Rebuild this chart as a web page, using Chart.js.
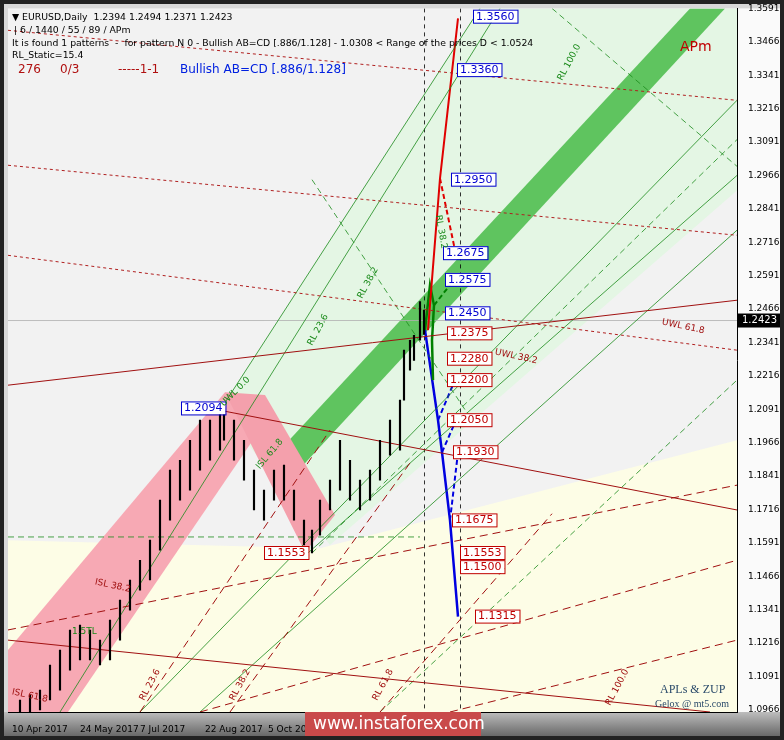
<!DOCTYPE html>
<html><head><meta charset="utf-8">
<script src="https://cdn.jsdelivr.net/npm/chart.js@4.4.1/dist/chart.umd.min.js"></script>
<style>html,body{margin:0;padding:0;background:#3a3a3a}#w{width:784px;height:740px}</style>
</head><body><div id="w"><canvas id="c" width="784" height="740"></canvas></div>
<script>
// ---- data ----
const barIdx = [4,9,14,19,24,29,34,39,44,49,54,59,64,69,74,79,84,89,94,99,104,106,111,116,121,126,131,136,141,146,150,154,159,164,169,174,179,184,189,194,196,199,201,204,206];
const barHigh= [1.1003,1.1022,1.1040,1.1134,1.1190,1.1265,1.1283,1.1265,1.1227,1.1302,1.1377,1.1452,1.1526,1.1601,1.1751,1.1863,1.1900,1.1975,1.2050,1.2050,1.2087,1.2094,1.2050,1.1975,1.1863,1.1788,1.1863,1.1882,1.1788,1.1676,1.1639,1.1751,1.1826,1.1975,1.1900,1.1826,1.1863,1.1975,1.2050,1.2125,1.2312,1.2349,1.2368,1.2494,1.2462];
const barLow = [1.0928,1.0958,1.0966,1.1003,1.1040,1.1115,1.1153,1.1153,1.1134,1.1153,1.1227,1.1339,1.1414,1.1452,1.1564,1.1676,1.1751,1.1788,1.1863,1.1900,1.1938,1.1975,1.1900,1.1826,1.1714,1.1676,1.1751,1.1751,1.1676,1.1583,1.1553,1.1620,1.1714,1.1788,1.1751,1.1714,1.1751,1.1826,1.1919,1.1938,1.2125,1.2237,1.2274,1.2349,1.2371];
const yTicks = [1.0966,1.1091,1.1216,1.1341,1.1466,1.1591,1.1716,1.1841,1.1966,1.2091,1.2216,1.2341,1.2466,1.2591,1.2716,1.2841,1.2966,1.3091,1.3216,1.3341,1.3466,1.3591];
const dateIdx = [0,34,64,96.5,128,160,193];
const dateLabels = ['10 Apr 2017','24 May 2017','7 Jul 2017','22 Aug 2017','5 Oct 2017','20 Nov 2017','4 Jan 2018'];
const lastPrice = 1.2423;
// projection lines
const redSolid  = [[208,1.2387],[214,1.2955],[223,1.3554]];
const redDash   = [[214,1.2955],[221.5,1.2686]];
const greenSolid= [[206.5,1.2387],[209,1.2555],[211,1.2480],[210,1.2349],[210.5,1.2200]];
const greenDash = [[211,1.2480],[221,1.2575]];
const blueSolid = [[206.5,1.2387],[213,1.2050],[215,1.1930],[219,1.1675],[223,1.1315]];
const blueDash1 = [[213,1.2050],[221.5,1.2200]];
const blueDash2 = [[215,1.1930],[222,1.2050]];
const blueDash3 = [[219,1.1675],[223,1.1930]];
const labelPrices=[1.3560,1.3360,1.2950,1.2675,1.2575,1.2450,1.2375,1.2280,1.2200,1.2050,1.1930,1.1675,1.1553,1.1500,1.1315,1.2094,1.1553];
const labelIdx   =[230.5,222.5,219.5,215.5,216.5,216.5,217.5,217.5,217.5,217.5,220.5,220,224,224,231.5,84.5,126];
const labelBlue  =[1,1,1,1,1,1,0,0,0,0,0,0,0,0,0,1,0];
// decorative lines [idx,price] pairs
const darkRedSolid=[[[-2,1.2181],[362.5,1.2499]],[[104,1.2087],[362.5,1.1714]],[[-2,1.1227],[349,1.0958]]];
const darkRedDash =[[[-2,1.1265],[362.5,1.1807]],[[94,1.0958],[362.5,1.1526]],[[219,1.0958],[362.5,1.1227]],[[64,1.0958],[159,1.2013]],[[109,1.0958],[200,1.1900]],[[184,1.0958],[270,1.1700]]];
const redDotted   =[[[-2,1.3509],[362.5,1.3247]],[[-2,1.3004],[362.5,1.2742]],[[-2,1.2667],[362.5,1.2312]]];
const greenThin   =[[[24,1.0958],[244,1.3591]],[[64,1.0958],[362.5,1.3247]],[[94,1.0958],[362.5,1.2761]],[[144,1.1527],[362.5,1.2966]],[[104,1.2087],[234,1.3591]]];
const greenDashL  =[[[184,1.0958],[362.5,1.2200]],[[150,1.1553],[362.5,1.3100]],[[270,1.3591],[362.5,1.3000]],[[150,1.2950],[230,1.2050]]];
const bandTop=[[134,1.1938],[339,1.3591]], bandBot=[[134,1.1788],[356.5,1.3591]];
const lightGreenPoly=[[104,1.2087],[234,1.3591],[362.5,1.3591],[362.5,1.2910],[159,1.1583]];
const beigePoly=[[154,1.1571],[362.5,1.1975],[362.5,1.0958],[-2,1.0958],[-2,1.1601]];
const pink1=[[-2,1.1190],[106.5,1.2155],[128,1.2058],[28,1.0958],[-2,1.0958]];
const pink2=[[106.5,1.2155],[126.5,1.2144],[161.5,1.1695],[146.5,1.1556]];

const pts=a=>a.map(p=>({x:p[0],y:p[1]}));
const ds=[];
ds.push({type:'bar',data:barIdx.map((x,i)=>({x,y:[barLow[i],barHigh[i]]})),backgroundColor:'#000',barThickness:1.5,order:1});
function line(a,color,w,dash){ds.push({type:'line',data:pts(a),borderColor:color,borderWidth:w,borderDash:dash||[],pointRadius:0,fill:false,tension:0,order:2});}
darkRedSolid.forEach(a=>line(a,'#a01010',1));
darkRedDash.forEach(a=>line(a,'#a01010',1,[8,5]));
redDotted.forEach(a=>line(a,'#b02020',1,[3,3]));
greenThin.forEach(a=>line(a,'#1a8a1a',0.8));
greenDashL.forEach(a=>line(a,'#1a8a1a',0.8,[6,4]));
line(redSolid,'#e00000',2); line(redDash,'#e00000',2,[5,3]);
line(greenSolid,'#008000',2.5); line(greenDash,'#008000',2,[5,3]);
line(blueSolid,'#0000e0',2.5); line(blueDash1,'#0000e0',2,[5,3]); line(blueDash2,'#0000e0',2,[5,3]); line(blueDash3,'#0000e0',2,[5,3]);

const deco={id:'deco',
 beforeDraw(c){const x=c.ctx;x.save();x.fillStyle='#d8d8d8';x.fillRect(0,0,784,740);
   const g=x.createLinearGradient(0,712,0,740);g.addColorStop(0,'#bdbdbd');g.addColorStop(1,'#5a5a5a');x.fillStyle=g;x.fillRect(0,712,784,28);
   x.fillStyle='#f2f2f2';const a=c.chartArea;x.fillRect(a.left,a.top,a.right-a.left,a.bottom-a.top);x.fillStyle='#fafafa';x.fillRect(a.right,a.top,784-a.right-4,a.bottom-a.top);x.restore();},
 beforeDatasetsDraw(c){const x=c.ctx,X=c.scales.x,Y=c.scales.y,a=c.chartArea;x.save();x.beginPath();x.rect(a.left,a.top,a.right-a.left,a.bottom-a.top);x.clip();
   const poly=(p,f)=>{x.beginPath();p.forEach((q,i)=>{const px=X.getPixelForValue(q[0]),py=Y.getPixelForValue(q[1]);i?x.lineTo(px,py):x.moveTo(px,py);});x.closePath();x.fillStyle=f;x.fill();};
   poly(beigePoly,'#fdfde6');
   poly(lightGreenPoly,'#e4f6e4');
   poly([bandTop[0],bandTop[1],bandBot[1],bandBot[0]],'#5fc45f');
   poly(pink1,'#f7a9b4');poly(pink2,'#f4a0ac');
   x.strokeStyle='#1a8a1a';x.lineWidth=0.8;x.setLineDash([6,4]);x.beginPath();
   x.moveTo(a.left,Y.getPixelForValue(1.1613));x.lineTo(X.getPixelForValue(204),Y.getPixelForValue(1.1613));x.stroke();
   x.setLineDash([]);x.strokeStyle='#b0b0b0';x.beginPath();x.moveTo(a.left,Y.getPixelForValue(lastPrice));x.lineTo(a.right,Y.getPixelForValue(lastPrice));x.stroke();
   x.strokeStyle='#000';x.setLineDash([4,4]);[206,224].forEach(v=>{const px=Math.round(X.getPixelForValue(v))+.5;x.beginPath();x.moveTo(px,a.top);x.lineTo(px,a.bottom);x.stroke();});
   x.restore();},
 afterDatasetsDraw(c){const x=c.ctx,X=c.scales.x,Y=c.scales.y,a=c.chartArea;x.save();
   x.font='11px "DejaVu Sans"';x.textBaseline='middle';
   labelPrices.forEach((p,i)=>{const t=p.toFixed(4),px=X.getPixelForValue(labelIdx[i]),py=Y.getPixelForValue(p),w=x.measureText(t).width+6;
     x.fillStyle='#fff';x.fillRect(px,py-7,w,13);x.strokeStyle=labelBlue[i]?'#0000d0':'#c00000';x.lineWidth=1;x.strokeRect(px+.5,py-6.5,w,13);
     x.fillStyle=labelBlue[i]?'#0000d0':'#c00000';x.fillText(t,px+3,py);});
   const rt=(s,px,py,ang,col)=>{x.save();x.translate(px,py);x.rotate(ang*Math.PI/180);x.fillStyle=col;x.font='9px "DejaVu Sans"';x.fillText(s,0,0);x.restore();};
   rt('RL 100.0',560,80,-62,'#1a8a1a');rt('RL 38.2',360,298,-62,'#1a8a1a');rt('RL 23.6',310,345,-62,'#1a8a1a');rt('UWL 0.0',222,405,-45,'#1a8a1a');rt('ISL 61.8',258,468,-50,'#1a8a1a');rt('RL 38.2',438,215,80,'#1a8a1a');
   rt('UWL 61.8',662,322,12,'#a01010');rt('UWL 38.2',495,352,12,'#a01010');rt('ISL 38.2',95,582,12,'#a01010');rt('ISL 61.8',12,692,12,'#a01010');
   rt('RL 23.6',142,700,-62,'#a01010');rt('RL 38.2',232,700,-62,'#a01010');rt('RL 61.8',375,700,-62,'#a01010');rt('RL 100.0',608,705,-62,'#a01010');rt('1.5TL',72,632,0,'#1a8a1a');
   x.fillStyle='#c00000';x.font='14px "DejaVu Sans"';x.fillText('APm',680,47);
   x.fillStyle='#2a4a6a';x.font='12px "Liberation Serif"';x.fillText('APLs & ZUP',660,690);x.font='10px "Liberation Serif"';x.fillText('Gelox @ mt5.com',655,704);
   x.textBaseline='alphabetic';x.fillStyle='#000';x.font='9.3px "DejaVu Sans"';
   x.fillText('▼ EURUSD,Daily  1.2394 1.2494 1.2371 1.2423',12,20);x.fillText('| 6 / 1440 / 55 / 89 / APm',14,33);
   x.fillText('It is found 1 patterns  -  for pattern N 0 - Bullish AB=CD [.886/1.128] - 1.0308 < Range of the prices D < 1.0524',12,46);x.fillText('RL_Static=15.4',12,58);
   x.font='12px "DejaVu Sans"';x.fillStyle='#b01010';x.fillText('276',18,73);x.fillText('0/3',60,73);x.fillText('-----1-1',118,73);x.fillStyle='#0020e0';x.fillText('Bullish AB=CD [.886/1.128]',180,73);
   const py=Y.getPixelForValue(lastPrice);x.fillStyle='#000';x.fillRect(a.right+1,py-7,44,14);x.fillStyle='#fff';x.font='10px "DejaVu Sans"';x.textBaseline='middle';x.fillText(lastPrice.toFixed(4),a.right+5,py);
   x.fillStyle='#c94a4a';x.fillRect(305,712,176,28);x.fillStyle='#fff';x.font='17px "DejaVu Sans"';x.fillText('www.instaforex.com',313,725);
   x.strokeStyle='#222';x.lineWidth=4;x.strokeRect(2,2,780,736);
   x.restore();}
};
new Chart(document.getElementById('c'),{data:{datasets:ds},plugins:[deco],
 options:{responsive:false,animation:false,layout:{autoPadding:false,padding:{left:8,top:8,right:0,bottom:0}},
  plugins:{legend:{display:false},tooltip:{enabled:false}},
  scales:{
   x:{type:'linear',offset:false,min:-2,max:362.5,grid:{display:false},border:{color:'#000'},
     afterBuildTicks:s=>{s.ticks=dateIdx.map(v=>({value:v}));},
     afterFit:s=>{s.height=28;s.paddingLeft=0;s.paddingRight=0;},
     ticks:{autoSkip:false,maxRotation:0,color:'#000',font:{size:9,family:'DejaVu Sans'},align:'start',padding:4,callback:(v)=>dateLabels[dateIdx.indexOf(v)]}},
   y:{position:'right',min:1.0958,max:1.3591,grid:{display:false},border:{color:'#000'},
     afterBuildTicks:s=>{s.ticks=yTicks.map(v=>({value:v}));},
     afterFit:s=>{s.width=47;},
     ticks:{autoSkip:false,color:'#000',font:{size:9,family:'DejaVu Sans'},padding:3,callback:v=>v.toFixed(4)}}
  }}});
</script></body></html>
